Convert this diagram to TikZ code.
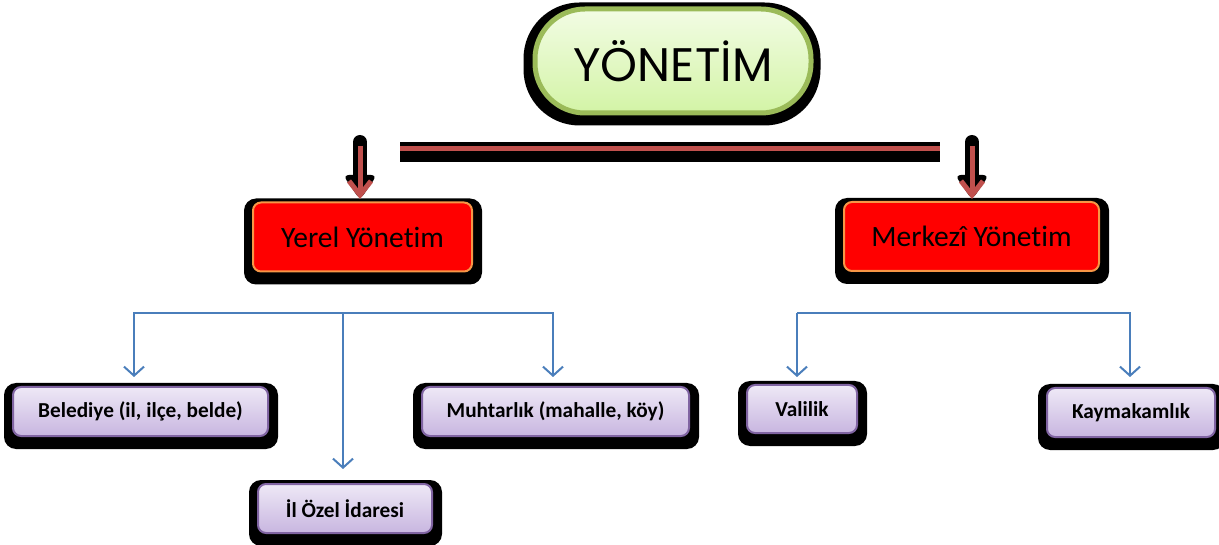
\documentclass[tikz,border=0pt]{standalone}
\usepackage{fontspec}
\setmainfont{Carlito}[Ligatures=NoCommon]
\newfontfamily\titlefont{Poppins}
\usetikzlibrary{arrows.meta,backgrounds}
\definecolor{tgreen}{HTML}{9BBB59}
\definecolor{glight}{HTML}{F2FCE4}
\definecolor{gdark}{HTML}{D3F4A6}
\definecolor{borange}{HTML}{F79646}
\definecolor{pborder}{HTML}{8064A2}
\definecolor{ptop}{HTML}{EEE8F6}
\definecolor{pbot}{HTML}{C8B6E0}
\definecolor{cblue}{HTML}{4A7EBB}
\definecolor{ared}{HTML}{C0504D}
\tikzset{
  titlebox/.style={rounded corners=50pt, draw=tgreen, line width=5pt,
    top color=glight, bottom color=gdark, inner sep=0pt,
    minimum width=276pt, minimum height=104pt,
    font=\titlefont\fontsize{47}{52}\selectfont},
  redbox/.style={rounded corners=8pt, draw=borange, line width=2pt,
    fill=red, inner sep=0pt, font=\fontsize{29.5}{34}\selectfont},
  pbox/.style={rounded corners=8pt, draw=pborder, line width=2pt,
    top color=ptop, bottom color=pbot, inner sep=0pt,
    font=\bfseries\fontsize{21.3}{25}\selectfont},
  shadowfill/.style={fill=black, rounded corners=12pt},
  conn/.style={draw=cblue, line width=2pt,
    -{Straight Barb[length=9pt,width=20pt,line width=2pt]}},
  bigshaft/.style={line width=14pt, line cap=round, black},
  redline/.style={draw=ared, line width=5pt},
}
\begin{document}
\begin{tikzpicture}[x=1pt,y=-1pt]
\useasboundingbox (0,0) rectangle (1219,545);

% nodes
\node[titlebox] (title) at (673,61) {YÖNETİM};
\node[redbox, minimum width=219pt, minimum height=69pt] (yer) at (362.5,237) {Yerel Yönetim};
\node[redbox, minimum width=255pt, minimum height=69pt] (mer) at (971.5,236.5) {Merkezî Yönetim};
\node[pbox, minimum width=255pt, minimum height=49pt] (bel) at (140.5,411.5) {Belediye (il, ilçe, belde)};
\node[pbox, minimum width=267pt, minimum height=49pt] (muh) at (555.5,411.5) {Muhtarlık (mahalle, köy)};
\node[pbox, minimum width=174pt, minimum height=49pt] (ozel) at (345,508.5) {İl Özel İdaresi};
\node[pbox, minimum width=110pt, minimum height=48pt] (val) at (802,409) {Valilik};
\node[pbox, minimum width=168pt, minimum height=49pt] (kay) at (1131,412.5) {Kaymakamlık};

% shadows
\begin{scope}[on background layer]
  \foreach \n in {yer,mer,bel,muh,ozel,val,kay}
    \fill[shadowfill] ([shift={(-8pt,3pt)}]\n.north west) rectangle ([shift={(9pt,-12pt)}]\n.south east);
  \fill[shadowfill, rounded corners=56pt] ([shift={(-9pt,4pt)}]title.north west) rectangle ([shift={(7pt,-10pt)}]title.south east);
\end{scope}

% bar
\fill[black] (400,142) rectangle (940,162);
\fill[ared] (400,146) rectangle (940,151);

% red down arrows
\coordinate (la1) at (360,142); \coordinate (la2) at (360,196);
\coordinate (ra1) at (972,142); \coordinate (ra2) at (972,196);
\foreach \a/\b in {la1/la2, ra1/ra2}{
  \draw[bigshaft] (\a) -- ([yshift=12pt]\b);
  \fill[black, rounded corners=6pt] ([shift={(-17pt,21pt)}]\b) -- ([shift={(17pt,21pt)}]\b) -- ([yshift=-4pt]\b) -- cycle;
  \draw[redline] ([yshift=-4pt]\a) -- ([yshift=2pt]\b);
  \draw[redline] ([shift={(-11pt,15pt)}]\b) -- ([yshift=1pt]\b) -- ([shift={(11pt,15pt)}]\b);
}

% blue connectors
\coordinate (lj) at (343,313);
\coordinate (rj) at (797,313);
\draw[conn] (lj) -| ([shift={(-6.5pt,9pt)}]bel.north);
\draw[conn] (lj) -| ([shift={(-2.5pt,9pt)}]muh.north);
\draw[conn] (lj) -- ([shift={(-2pt,14pt)}]ozel.north);
\draw[conn] (rj) -| ([shift={(-5pt,7pt)}]val.north);
\draw[conn] (rj) -| ([shift={(-1pt,10pt)}]kay.north);
\end{tikzpicture}
\end{document}
